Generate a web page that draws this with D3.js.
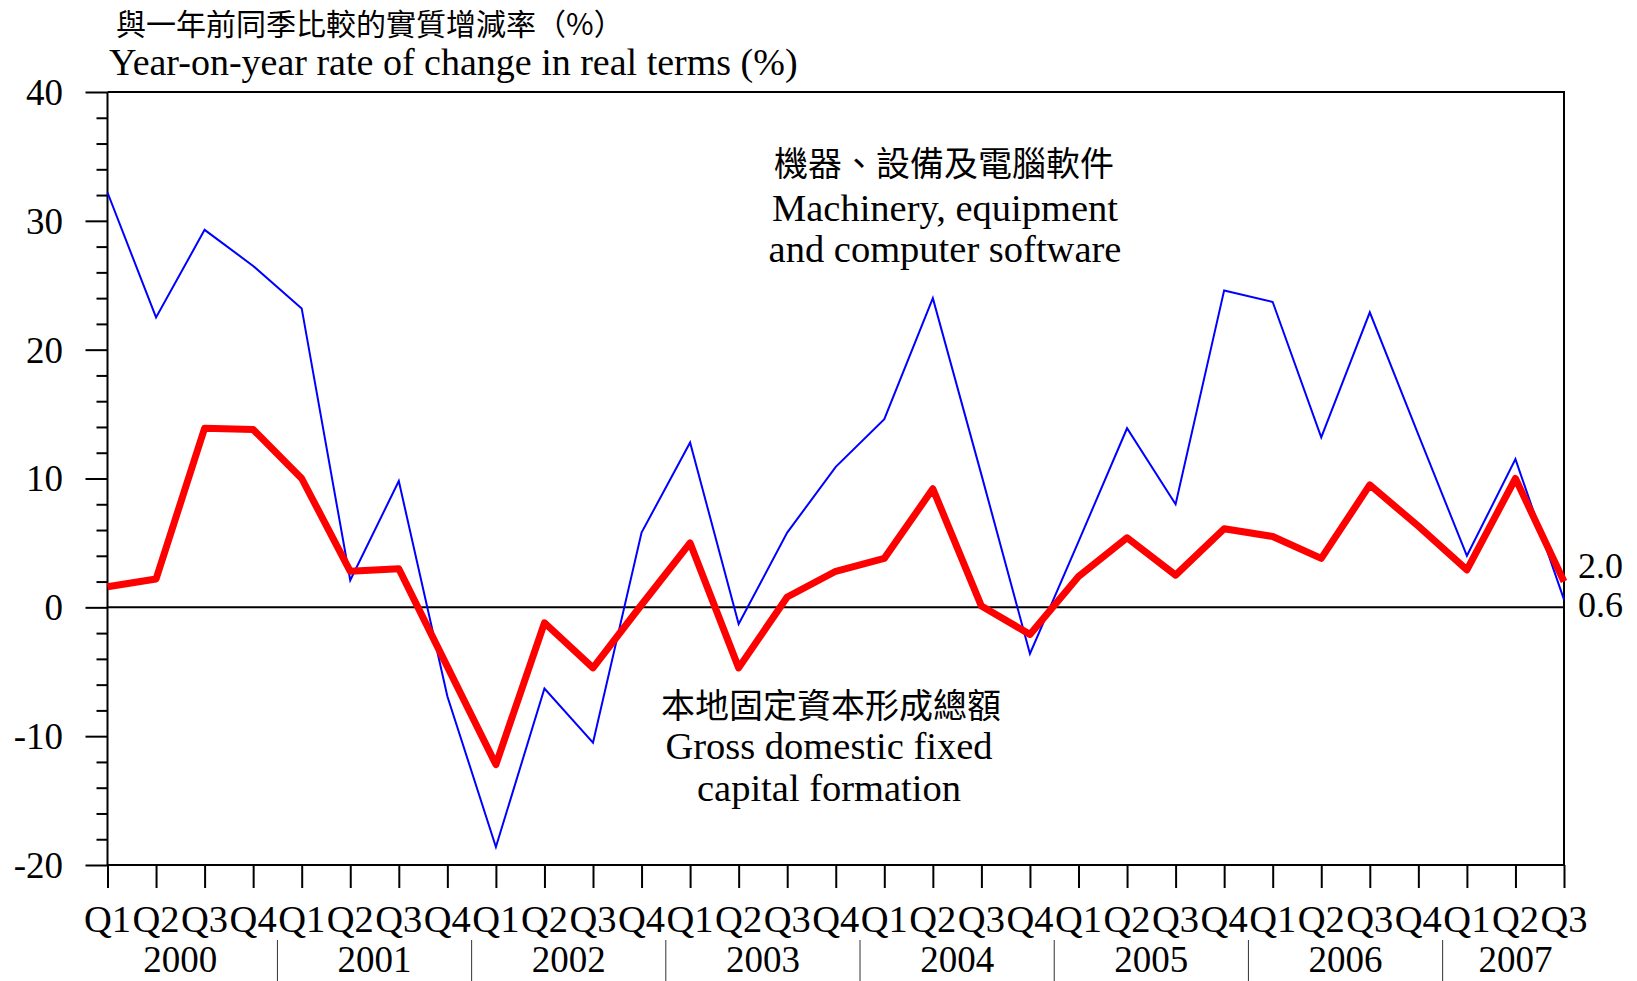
<!DOCTYPE html>
<html>
<head>
<meta charset="utf-8">
<script src="https://cdn.jsdelivr.net/npm/d3@7"></script>
<style>
  html, body { margin: 0; padding: 0; background: #fff; }
  svg text { font-family: "Liberation Serif", "Times New Roman", serif; fill: #000; }
  svg text.cjk { font-family: "Noto Sans CJK TC", "Noto Sans CJK SC", sans-serif; }
</style>
</head>
<body>
<div id="chart"></div>
<script>
(function() {
  "use strict";

  var years = ["2000", "2001", "2002", "2003", "2004", "2005", "2006", "2007"];
  var quarters = ["Q1", "Q2", "Q3", "Q4"];

  // Machinery, equipment and computer software (%)
  var machinery = [
    32.2, 22.5, 29.3, 26.5,
    23.2, 2.1, 9.8, -6.9,
    -18.6, -6.3, -10.5, 5.8,
    12.8, -1.3, 5.8, 10.9,
    14.6, 24.0, 10.3, -3.6,
    5.1, 13.9, 8.0, 24.6,
    23.7, 13.2, 22.9, 13.4,
    4.0, 11.5, 0.6
  ];

  // Gross domestic fixed capital formation (%)
  var gdfcf = [
    1.6, 2.2, 13.9, 13.8,
    10.0, 2.8, 3.0, -4.6,
    -12.2, -1.2, -4.7, 0.2,
    5.0, -4.7, 0.8, 2.8,
    3.8, 9.2, 0.1, -2.1,
    2.4, 5.4, 2.5, 6.1,
    5.5, 3.8, 9.5, 6.3,
    2.9, 10.0, 2.0
  ];

  var yTicks = [-20, -10, 0, 10, 20, 30, 40];
  var endLabels = ["2.0", "0.6"];

  var width = 1637, height = 981;
  var left = 107.5, right = 1564, top = 92, bottom = 865;

  var n = machinery.length;
  var periods = d3.range(n).map(function(i) {
    return { q: quarters[i % 4], year: years[Math.floor(i / 4)] };
  });

  var svg = d3.select("#chart").append("svg")
    .attr("width", width)
    .attr("height", height);

  var x = d3.scaleLinear().domain([0, n - 1]).range([left, right]);
  var y = d3.scaleLinear().domain([-20, 40]).range([bottom, top]);

  // frame: top and right edges
  svg.append("path")
    .attr("d", "M" + left + "," + top + "H" + right + "V" + bottom)
    .attr("fill", "none")
    .attr("stroke", "#000")
    .attr("stroke-width", 2);

  // y axis with minor ticks every 2
  var yAxis = svg.append("g")
    .attr("transform", "translate(" + left + ",0)")
    .call(d3.axisLeft(y).tickValues(d3.range(-20, 41, 2)).tickSize(11).tickFormat(""));
  yAxis.selectAll(".tick").filter(function(d) { return d % 10 === 0; })
    .select("line").attr("x2", -22);
  yAxis.selectAll("line, path").attr("stroke", "#000").attr("stroke-width", 2);
  yAxis.select(".domain").attr("d", "M0," + top + "V" + bottom);

  svg.append("g").selectAll("text")
    .data(yTicks)
    .enter().append("text")
    .attr("x", 63)
    .attr("y", function(d) { return y(d); })
    .attr("dy", "0.35em")
    .attr("text-anchor", "end")
    .attr("font-size", 37)
    .text(function(d) { return d; });

  // x axis
  var xAxis = svg.append("g")
    .attr("transform", "translate(0," + bottom + ")")
    .call(d3.axisBottom(x).tickValues(d3.range(n)).tickSize(23).tickFormat(""));
  xAxis.selectAll("line, path").attr("stroke", "#000").attr("stroke-width", 2);
  xAxis.select(".domain").attr("d", "M" + left + ",0H" + right);

  svg.append("g").selectAll("text")
    .data(periods)
    .enter().append("text")
    .attr("x", function(d, i) { return x(i); })
    .attr("y", 919)
    .attr("dy", "0.35em")
    .attr("text-anchor", "middle")
    .attr("font-size", 38.5)
    .text(function(d) { return d.q; });

  // year labels and separators
  var yearGroups = years.map(function(yr, k) {
    var first = k * 4, last = Math.min(k * 4 + 3, n - 1);
    return { year: yr, first: first, last: last };
  });

  svg.append("g").selectAll("text")
    .data(yearGroups)
    .enter().append("text")
    .attr("x", function(d) { return (x(d.first) + x(d.last)) / 2; })
    .attr("y", 959)
    .attr("dy", "0.35em")
    .attr("text-anchor", "middle")
    .attr("font-size", 37)
    .text(function(d) { return d.year; });

  svg.append("g").selectAll("line")
    .data(yearGroups.slice(1))
    .enter().append("line")
    .attr("x1", function(d) { return x(d.first - 0.5); })
    .attr("x2", function(d) { return x(d.first - 0.5); })
    .attr("y1", 940)
    .attr("y2", 981)
    .attr("stroke", "#333")
    .attr("stroke-width", 1);

  // zero line
  svg.append("line")
    .attr("x1", left).attr("x2", right)
    .attr("y1", y(0)).attr("y2", y(0))
    .attr("stroke", "#000")
    .attr("stroke-width", 2);

  var line = d3.line()
    .x(function(d, i) { return x(i); })
    .y(function(d) { return y(d); });

  svg.append("path")
    .datum(machinery)
    .attr("d", line)
    .attr("fill", "none")
    .attr("stroke", "#0000ff")
    .attr("stroke-width", 2);

  svg.append("path")
    .datum(gdfcf)
    .attr("d", line)
    .attr("fill", "none")
    .attr("stroke", "#ff0000")
    .attr("stroke-width", 7)
    .attr("stroke-linejoin", "round");

  // end value labels
  svg.append("g").selectAll("text")
    .data(endLabels)
    .enter().append("text")
    .attr("x", 1578)
    .attr("y", function(d, i) { return i === 0 ? 565 : 604; })
    .attr("dy", "0.35em")
    .attr("font-size", 36)
    .text(function(d) { return d; });

  // titles
  svg.append("text")
    .attr("class", "cjk")
    .attr("x", 116)
    .attr("y", 24)
    .attr("dy", "0.35em")
    .attr("font-size", 30)
    .text("與一年前同季比較的實質增減率（%）");

  svg.append("text")
    .attr("x", 109)
    .attr("y", 62)
    .attr("dy", "0.35em")
    .attr("font-size", 38)
    .text("Year-on-year rate of change in real terms (%)");

  // series annotations
  var notes = [
    { text: "機器、設備及電腦軟件", cjk: true, x: 944, y: 164 },
    { text: "Machinery, equipment", x: 945, y: 208 },
    { text: "and computer software", x: 945, y: 249 },
    { text: "本地固定資本形成總額", cjk: true, x: 831, y: 706 },
    { text: "Gross domestic fixed", x: 829, y: 746 },
    { text: "capital formation", x: 829, y: 788 }
  ];

  svg.append("g").selectAll("text")
    .data(notes)
    .enter().append("text")
    .attr("class", function(d) { return d.cjk ? "cjk" : null; })
    .attr("x", function(d) { return d.x; })
    .attr("y", function(d) { return d.y; })
    .attr("dy", "0.35em")
    .attr("text-anchor", "middle")
    .attr("font-size", function(d) { return d.cjk ? 34 : 38.5; })
    .text(function(d) { return d.text; });
})();
</script>
</body>
</html>
